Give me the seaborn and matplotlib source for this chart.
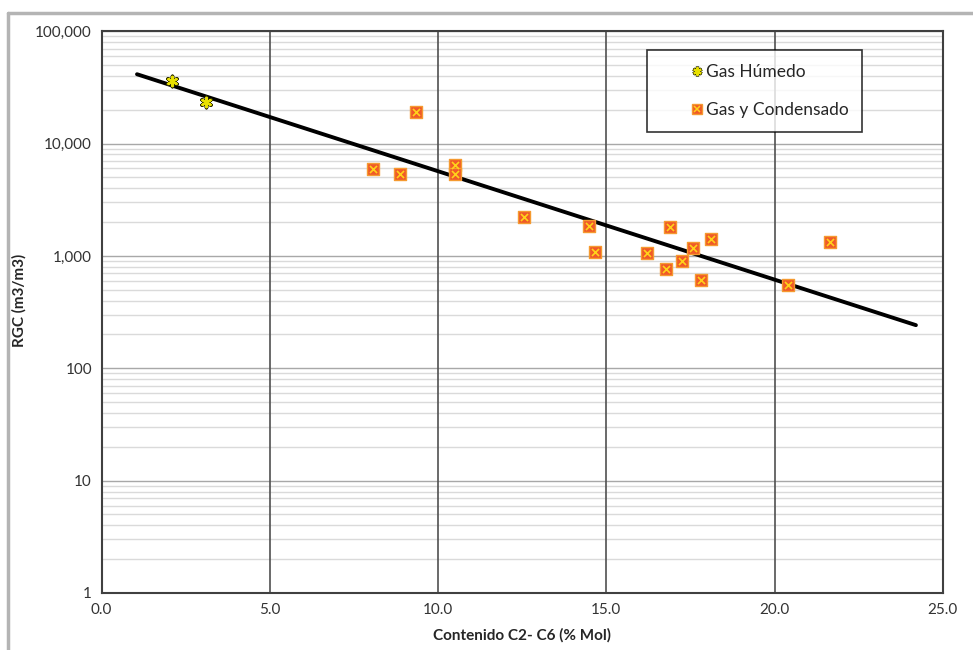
import numpy as np
import pandas as pd
import seaborn as sns
import matplotlib.pyplot as plt
from matplotlib.lines import Line2D
from matplotlib.ticker import FixedLocator, LogLocator, NullFormatter, FuncFormatter

# Gas Humedo points
humedo_x = [2.1, 3.1]
humedo_y = [35900, 23300]

# Gas y Condensado points
cond_x = [8.06, 8.86, 9.35, 10.5, 10.5, 12.56, 14.49, 14.67, 16.22, 16.78,
          16.88, 17.24, 17.58, 17.82, 18.12, 20.4, 21.66]
cond_y = [5920, 5310, 19100, 6430, 5310, 2215, 1842, 1088, 1052, 758,
          1794, 899, 1180, 609, 1402, 550, 1336]

# exponential trend line end points
trend_x = [1.05, 24.2]
trend_y = [41400, 242]

x_ticks = [0, 5, 10, 15, 20, 25]
y_ticks = [1, 10, 100, 1000, 10000, 100000]

sns.set_theme(style="white")
plt.rcParams['font.family'] = ['Lato', 'DejaVu Sans']

df_h = pd.DataFrame({"x": humedo_x, "y": humedo_y})
df_c = pd.DataFrame({"x": cond_x, "y": cond_y})
df_t = pd.DataFrame({"x": trend_x, "y": trend_y})

fig = plt.figure(figsize=(9.73, 6.5), dpi=100)
ax = fig.add_axes([0.1045, 0.0877, 0.8645, 0.8643])

ax.set_yscale('log')
ax.set_xlim(0, 25)
ax.set_ylim(1, 100000)

# grid
ax.yaxis.set_major_locator(FixedLocator(y_ticks))
ax.yaxis.set_minor_locator(LogLocator(base=10, subs=np.arange(2, 10)))
ax.yaxis.set_minor_formatter(NullFormatter())
ax.yaxis.set_major_formatter(FuncFormatter(lambda v, p: f"{int(round(v)):,}"))
ax.set_xticks(x_ticks)
ax.xaxis.set_major_formatter(FuncFormatter(lambda v, p: f"{v:.1f}"))
ax.grid(which='minor', axis='y', color='#dadada', linewidth=1.0)
ax.grid(which='major', axis='y', color='#a8a8a8', linewidth=1.0)
ax.set_axisbelow(True)
for xv in x_ticks[1:-1]:
    ax.axvline(xv, color='#505050', linewidth=1.2, zorder=1)
ax.tick_params(which='both', length=0, labelsize=11, colors='#333333', pad=7)

for s in ax.spines.values():
    s.set_color('#404040')
    s.set_linewidth(1.5)

sns.lineplot(data=df_t, x="x", y="y", ax=ax, color='black', linewidth=2.8, zorder=3)

sns.scatterplot(data=df_h, x="x", y="y", ax=ax, marker=(6, 2, 0), s=55,
                color='#333300', linewidth=2.6, zorder=4)
sns.scatterplot(data=df_h, x="x", y="y", ax=ax, marker=(6, 2, 0), s=45,
                color='#e8e000', linewidth=1.6, zorder=5)

sns.scatterplot(data=df_c, x="x", y="y", ax=ax, marker='s', s=65,
                color='#f05a28', edgecolor='#f59a30', linewidth=1.0, zorder=4)
sns.scatterplot(data=df_c, x="x", y="y", ax=ax, marker='x', s=26,
                color='#ffd21a', linewidth=1.2, zorder=5)

ax.set_xlabel("Contenido C2- C6 (% Mol)", fontsize=11, fontweight='bold', labelpad=8)
ax.set_ylabel("RGC (m3/m3)", fontsize=11, fontweight='bold')
ax.yaxis.set_label_coords(-0.0888, 0.52)

h1 = (Line2D([], [], ls='', marker=(6, 2, 0), ms=7, mew=2.4, color='#333300'),
      Line2D([], [], ls='', marker=(6, 2, 0), ms=6, mew=1.5, color='#e8e000'))
h2 = (Line2D([], [], ls='', marker='s', ms=7, mfc='#f05a28', mec='#f59a30'),
      Line2D([], [], ls='', marker='x', ms=4.5, mew=1.1, color='#ffd21a'))
leg = ax.legend([h1, h2], ["Gas Húmedo", "Gas y Condensado"], loc='upper left',
                bbox_to_anchor=(0.648, 0.966), fontsize=12.5, frameon=True,
                fancybox=False, edgecolor='black', handlelength=4.2,
                handletextpad=-1.6, labelspacing=1.25, borderpad=0.8,
                borderaxespad=0)
leg.get_frame().set_linewidth(1.2)

# outer gray frame (top and left)
fig.add_artist(Line2D([8 / 973, 8 / 973], [0, 1 - 13 / 650], transform=fig.transFigure,
                      color='#b4b4b4', linewidth=2.5))
fig.add_artist(Line2D([8 / 973, 1], [1 - 13 / 650, 1 - 13 / 650], transform=fig.transFigure,
                      color='#b4b4b4', linewidth=2.5))

fig.savefig('out.png', dpi=100)
